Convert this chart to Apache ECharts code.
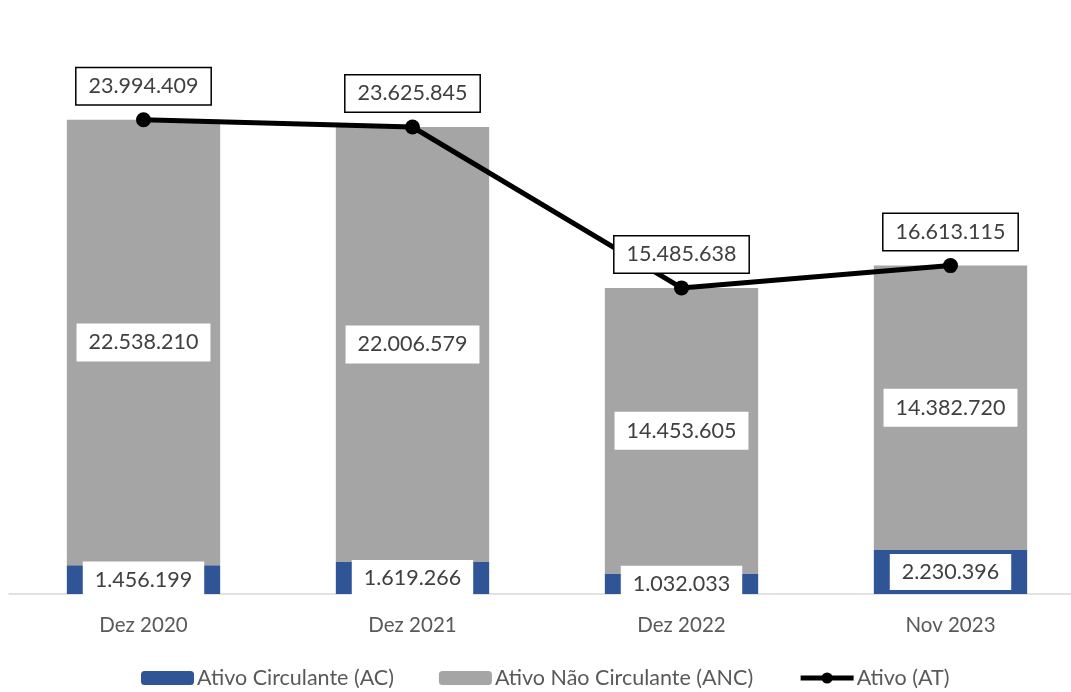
<!DOCTYPE html>
<html><head><meta charset="utf-8">
<script src="https://cdn.jsdelivr.net/npm/echarts@6/dist/echarts.min.js"></script>
<style>html,body{margin:0;padding:0;background:#fff}#c{width:1071px;height:692px}</style>
</head><body><div id="c"></div>
<script>
const categories = ['Dez 2020', 'Dez 2021', 'Dez 2022', 'Nov 2023'];
const ativoCirculante = [1456199, 1619266, 1032033, 2230396];
const ativoNaoCirculante = [22538210, 22006579, 14453605, 14382720];
const ativoTotal = [23994409, 23625845, 15485638, 16613115];

const FONT = 'Lato';
function fmt(v) { return String(v).replace(/\B(?=(\d{3})+(?!\d))/g, '.'); }

const chart = echarts.init(document.getElementById('c'));
chart.setOption({
  animation: false,
  textStyle: { fontFamily: FONT },
  grid: { left: 9, top: 1, right: -14, height: 593, containLabel: false, outerBoundsMode: 'none' },
  xAxis: {
    type: 'category', data: categories,
    axisLine: { lineStyle: { color: '#D9D9D9', width: 1.5 } },
    axisTick: { show: false },
    axisLabel: { color: '#595959', fontSize: 20.5, fontFamily: FONT, margin: 21 }
  },
  yAxis: { type: 'value', min: 0, max: 30000000, show: false, splitLine: { show: false } },
  legend: {
    top: 662, left: 136, itemWidth: 53, itemHeight: 14, itemGap: 45,
    textStyle: { color: '#595959', fontSize: 21.5, fontFamily: FONT, padding: [0, 0, 0, -2] },
    data: [
      { name: 'Ativo Circulante (AC)' },
      { name: 'Ativo Não Circulante (ANC)' },
      { name: 'Ativo (AT)', lineStyle: { width: 5, color: '#000' }, itemStyle: { color: '#000' } }
    ]
  },
  series: [
    {
      name: 'Ativo Circulante (AC)', type: 'bar', stack: 'a', data: ativoCirculante,
      barWidth: '57%', itemStyle: { color: '#2F5597' },
      label: { show: true, position: 'inside', formatter: p => fmt(p.value), color: '#404040',
        fontSize: 21.5, fontFamily: FONT, backgroundColor: '#fff', padding: [7, 12] }
    },
    {
      name: 'Ativo Não Circulante (ANC)', type: 'bar', stack: 'a', data: ativoNaoCirculante,
      barWidth: '57%', itemStyle: { color: '#A5A5A5' },
      label: { show: true, position: 'inside', formatter: p => fmt(p.value), color: '#404040',
        fontSize: 21.5, fontFamily: FONT, backgroundColor: '#fff', padding: [8, 12] }
    },
    {
      name: 'Ativo (AT)', type: 'line', data: ativoTotal, z: 5,
      lineStyle: { color: '#000', width: 5 }, itemStyle: { color: '#000' },
      symbol: 'circle', symbolSize: 15,
      label: { show: true, position: 'top', distance: 8, formatter: p => fmt(p.value), color: '#404040',
        fontSize: 21.5, fontFamily: FONT, backgroundColor: '#fff', borderColor: '#000', borderWidth: 1.5,
        padding: [7, 12] }
    }
  ]
});
</script></body></html>
